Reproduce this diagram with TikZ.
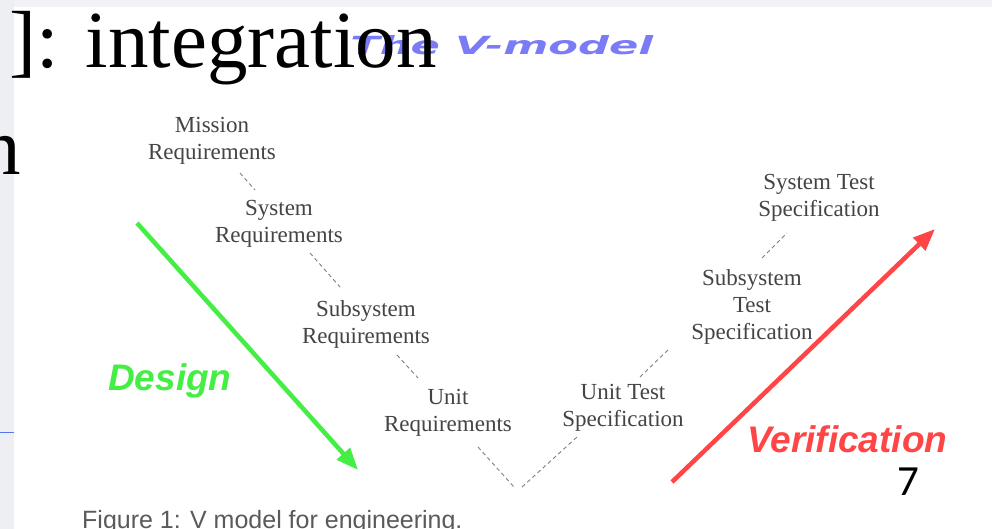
\documentclass[tikz,border=0pt]{standalone}
\usepackage{fontspec}
\setmainfont{Liberation Serif}
\newfontfamily\sansf{Liberation Sans}
\newfontfamily\dejavu{DejaVu Sans}
\newfontfamily\carl{Carlito}
\usetikzlibrary{arrows.meta}
\definecolor{labgray}{HTML}{444444}
\definecolor{dashgray}{HTML}{808080}
\definecolor{vblue}{HTML}{7B7BF5}
\definecolor{dgreen}{HTML}{44EE44}
\definecolor{vred}{HTML}{FF4545}
\definecolor{capgray}{HTML}{5A5A5A}
\definecolor{stripgray}{HTML}{EEEFF3}
\definecolor{topgray}{HTML}{F1F2F7}
\definecolor{lineblue}{HTML}{5577EE}
\tikzset{
  lab/.style={align=center, inner sep=0pt, text=labgray, font=\fontsize{23}{27}\selectfont},
  vdash/.style={draw=dashgray, line width=0.9pt, dash pattern=on 4pt off 3pt},
  bigarrow/.style={line width=4.5pt, -{Triangle[length=22pt,width=17pt]}},
  phase/.style={inner sep=0pt, font=\sansf\bfseries\itshape\fontsize{37}{37}\selectfont}
}
\begin{document}
\begin{tikzpicture}[x=1pt,y=-1pt]
\useasboundingbox (0,0) rectangle (992,529);
\fill[white] (0,0) rectangle (992,529);
\fill[topgray] (0,0) rectangle (992,7);
\fill[stripgray] (0,0) rectangle (14,529);
\draw[lineblue, line width=1pt] (0,432) -- (14,432);

% title of embedded figure
\node[anchor=base west, inner sep=0pt, text=vblue, xscale=1.73,
  font=\dejavu\bfseries\itshape\fontsize{25}{25}\selectfont] (vtitle) at (350,55) {The V-model};

% slide title text
\node[anchor=base west, inner sep=0pt, font=\fontsize{81}{81}\selectfont] (slidetitle) at (9,68) {]: integration};
\node[anchor=base east, inner sep=0pt, font=\fontsize{81}{81}\selectfont] (slidetwo) at (21,175) {n};

% V labels
\node[lab] (mission) at (212,141) {Mission\\Requirements};
\node[lab] (system) at (279,224) {System\\Requirements};
\node[lab] (subsys) at (366,324) {Subsystem\\Requirements};
\node[lab] (unit) at (448,413) {Unit\\Requirements};
\node[lab] (unittest) at (623,408) {Unit Test\\Specification};
\node[lab] (subtest) at (752,307) {Subsystem\\Test\\Specification};
\node[lab] (systest) at (819,198) {System Test\\Specification};

% dashed connectors
\coordinate (d1a) at (240,173); \coordinate (d1b) at (255,190);
\coordinate (d2a) at (310,253); \coordinate (d2b) at (340,287);
\coordinate (d3a) at (397,355); \coordinate (d3b) at (418,378);
\coordinate (d4a) at (478,447); \coordinate (vbot) at (514,487);
\coordinate (d5b) at (577,437);
\coordinate (d6a) at (640,377); \coordinate (d6b) at (670,348);
\coordinate (d7a) at (762,258); \coordinate (d7b) at (787,233);
\draw[vdash] (d1a) -- (d1b);
\draw[vdash] (d2a) -- (d2b);
\draw[vdash] (d3a) -- (d3b);
\draw[vdash] (d4a) -- (vbot);
\draw[vdash] ([xshift=8pt]vbot) -- (d5b);
\draw[vdash] (d6a) -- (d6b);
\draw[vdash] (d7a) -- (d7b);

% arrows
\coordinate (gs) at (137,223); \coordinate (ge) at (358,470);
\coordinate (rs) at (672,482); \coordinate (re) at (935,229);
\draw[bigarrow, draw=dgreen, fill=dgreen] (gs) -- (ge);
\draw[bigarrow, draw=vred, fill=vred] (rs) -- (re);

\node[phase, text=dgreen, anchor=base west] (design) at (108,390) {Design};
\node[phase, text=vred, anchor=base west] (verif) at (747,452) {Verification};

% caption
\node[anchor=base west, inner sep=0pt, text=capgray, font=\sansf\fontsize{25}{25}\selectfont] (caption) at (82,528) {Figure 1: V model for engineering.};

% page number
\node[anchor=base, inner sep=0pt, font=\carl\fontsize{43}{43}\selectfont] (pagenum) at (908,495) {7};
\end{tikzpicture}
\end{document}
